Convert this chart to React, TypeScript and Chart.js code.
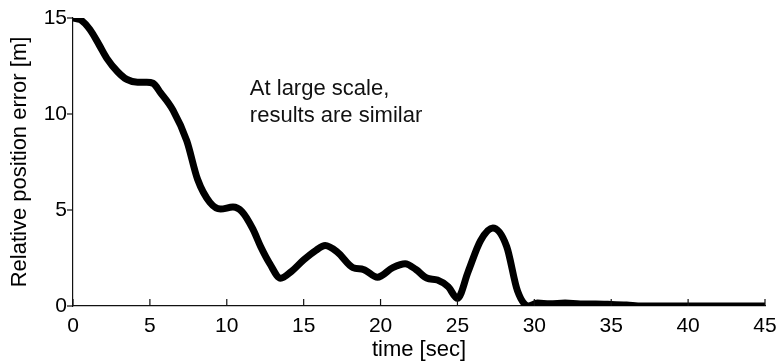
import React, { useEffect, useRef } from "react";
import { Chart, registerables } from "chart.js";

Chart.register(...registerables);

const timeSec = [
  0, 0.5, 1.1, 1.7, 2.2, 2.9, 3.5, 4.2, 4.8, 5.2, 5.7, 6.5, 7.4, 8.1, 8.9, 9.6,
  10.4, 11.0, 11.7, 12.2, 12.8, 13.5, 14.2, 15.0, 15.8, 16.4, 17.2, 18.2, 18.9,
  19.8, 20.8, 21.6, 22.3, 23.0, 23.7, 24.4, 25.0, 25.7, 26.5, 27.3, 28.2, 28.9,
  29.6, 30.2, 31, 32, 33, 34, 35, 36, 37, 40, 45,
];
const errorM = [
  15, 14.9, 14.4, 13.6, 12.9, 12.2, 11.8, 11.65, 11.65, 11.6, 11.1, 10.2, 8.6,
  6.6, 5.4, 5.05, 5.15, 4.9, 4.0, 3.1, 2.2, 1.45, 1.8, 2.4, 2.9, 3.15, 2.8, 2.0,
  1.9, 1.5, 2.0, 2.2, 1.9, 1.46, 1.35, 1.0, 0.4, 1.8, 3.4, 4.06, 3.1, 0.8, 0.0,
  0.15, 0.12, 0.15, 0.1, 0.1, 0.08, 0.05, 0, 0, 0,
];
const xTickStep = 5;
const yTickStep = 5;
const annotationLines = ["At large scale,", "results are similar"];
const xTitle = "time [sec]";
const yTitle = "Relative position error [m]";

const FONT = "'Liberation Sans', Arial, Helvetica, sans-serif";

export default function App() {
  const ref = useRef<HTMLCanvasElement>(null);

  useEffect(() => {
    document.body.style.margin = "0";
    const canvas = ref.current;
    if (!canvas) return;

    const extras = {
      id: "extras",
      afterDraw(chart: any) {
        const ctx = chart.ctx;
        const xs = chart.scales.x;
        const ys = chart.scales.y;
        ctx.save();
        ctx.strokeStyle = "#111";
        ctx.lineWidth = 1.2;
        xs.ticks.forEach((t: any) => {
          const px = xs.getPixelForValue(t.value);
          ctx.beginPath();
          ctx.moveTo(px, ys.bottom);
          ctx.lineTo(px, ys.bottom - 7);
          ctx.stroke();
        });
        ys.ticks.forEach((t: any) => {
          const py = ys.getPixelForValue(t.value);
          ctx.beginPath();
          ctx.moveTo(xs.left, py);
          ctx.lineTo(xs.left - 6, py);
          ctx.stroke();
        });
        ctx.fillStyle = "#111";
        ctx.font = `22px ${FONT}`;
        ctx.textBaseline = "alphabetic";
        ctx.textAlign = "left";
        const x0 = xs.getPixelForValue(11.5);
        const y0 = ys.getPixelForValue(11.0);
        annotationLines.forEach((l, i) => ctx.fillText(l, x0, y0 + i * 27));
        ctx.restore();
      },
    };

    const chart = new Chart(canvas, {
      type: "line",
      data: {
        datasets: [
          {
            data: timeSec.map((t, i) => ({ x: t, y: errorM[i] })),
            borderColor: "#000",
            borderWidth: 7,
            pointRadius: 0,
            fill: false,
            cubicInterpolationMode: "monotone",
            borderCapStyle: "round",
            borderJoinStyle: "round",
          },
        ],
      },
      options: {
        responsive: false,
        animation: false,
        layout: { padding: { top: 18, right: 13, left: 0, bottom: 0 } },
        plugins: { legend: { display: false }, tooltip: { enabled: false } },
        scales: {
          x: {
            type: "linear",
            min: 0,
            max: 45,
            afterFit: (s: any) => {
              s.height = 58;
              s.paddingRight = 0;
              s.paddingLeft = 0;
            },
            grid: { display: false, drawTicks: false },
            border: { display: true, color: "#111", width: 1.2 },
            ticks: {
              stepSize: xTickStep,
              color: "#000",
              font: { family: FONT, size: 21 },
              padding: 8,
              maxRotation: 0,
            },
            title: {
              display: true,
              text: xTitle,
              color: "#000",
              font: { family: FONT, size: 22 },
              padding: { top: 0, bottom: 1 },
            },
          },
          y: {
            type: "linear",
            min: 0,
            max: 15,
            afterFit: (s: any) => {
              s.width = 73;
              s.paddingTop = 0;
              s.paddingBottom = 0;
            },
            grid: { display: false, drawTicks: false },
            border: { display: true, color: "#111", width: 1.2 },
            ticks: {
              stepSize: yTickStep,
              color: "#000",
              font: { family: FONT, size: 21 },
              padding: 6,
            },
            title: {
              display: true,
              text: yTitle,
              color: "#000",
              font: { family: FONT, size: 22 },
              padding: { top: 7, bottom: 0 },
            },
          },
        },
      },
      plugins: [extras],
    } as any);

    return () => chart.destroy();
  }, []);

  return (
    <div style={{ position: "absolute", left: 0, top: 0, width: 778, height: 364 }}>
      <canvas ref={ref} width={778} height={364} />
    </div>
  );
}
